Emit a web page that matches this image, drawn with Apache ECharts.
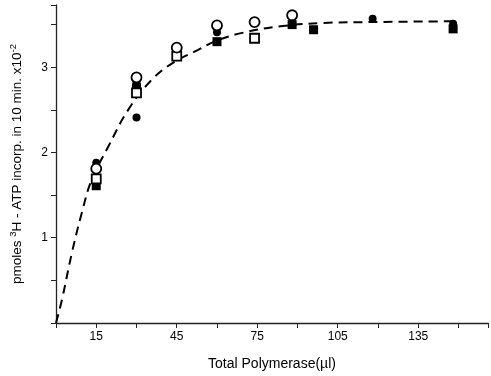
<!DOCTYPE html>
<html>
<head>
<meta charset="utf-8">
<title>Polymerase</title>
<script src="https://cdn.jsdelivr.net/npm/echarts@6/dist/echarts.min.js"></script>
<style>
  html, body { margin: 0; padding: 0; background: #fff; }
  #chart { width: 491px; height: 376px; }
</style>
</head>
<body>
<div id="chart"></div>
<script>
// data: [µl, pmoles x10^-2]
var filledCircle = [[15, 1.88], [30, 2.82], [30, 2.41], [60, 3.41], [118, 3.57], [148, 3.51]];
var openCircle = [[15, 1.81], [30, 2.88], [45, 3.23], [60, 3.49], [74, 3.53], [88, 3.61]];
var filledSquare = [[15, 1.61], [30, 2.76], [60, 3.30], [88, 3.50], [96, 3.44], [148, 3.45]];
var openSquare = [[15, 1.69], [30, 2.70], [45, 3.13], [74, 3.34]];
// dashed fit curve, traced points
var curve = [[0, 0], [2.2, 0.27], [5.9, 0.82], [9.6, 1.29], [13.3, 1.68], [19.5, 2.07],
  [26.9, 2.50], [35.6, 2.85], [44, 3.06], [52.8, 3.20], [59, 3.30], [69, 3.40],
  [83.7, 3.48], [99.7, 3.52], [118, 3.53], [150, 3.54]];

var chart = echarts.init(document.getElementById('chart'));
var font = 'Liberation Sans';
var ink = '#000';

function dots(data, symbol, size, filled) {
  return {
    type: 'scatter',
    data: data,
    symbol: symbol,
    symbolSize: size,
    itemStyle: filled
      ? { color: ink, opacity: 1 }
      : { color: '#fff', borderColor: ink, borderWidth: 1.8, opacity: 1 },
    z: filled ? 3 : 4
  };
}

chart.setOption({
  animation: false,
  backgroundColor: '#fff',
  grid: { left: 54, right: 2, top: 5, bottom: 53 },
  xAxis: {
    type: 'value',
    min: 0, max: 161, interval: 15,
    name: 'Total Polymerase(\u00b5l)',
    nameLocation: 'middle',
    nameGap: 34,
    nameTextStyle: { fontFamily: font, fontSize: 14, color: ink },
    axisLine: { lineStyle: { color: '#222', width: 1.3 } },
    axisTick: { length: 5, lineStyle: { color: '#222' } },
    axisLabel: {
      fontFamily: font, fontSize: 12, color: ink, margin: 8,
      formatter: function (v) { return (v - 15) % 30 === 0 ? String(v) : ''; }
    },
    splitLine: { show: false }
  },
  yAxis: {
    type: 'value',
    min: 0, max: 3.73, interval: 0.5,
    name: 'pmoles {sup|3}H - ATP incorp. in 10 min. x10{sup|-2}',
    nameLocation: 'middle',
    nameGap: 30,
    nameTextStyle: {
      fontFamily: font, fontSize: 13.5, color: ink, lineHeight: 18,
      rich: { sup: { fontFamily: font, fontSize: 9.5, verticalAlign: 'top', lineHeight: 18 } }
    },
    axisLine: { show: true, lineStyle: { color: '#222', width: 1.3 } },
    axisTick: { show: true, length: 5, lineStyle: { color: '#222' } },
    axisLabel: {
      fontFamily: font, fontSize: 12, color: ink, margin: 8,
      formatter: function (v) { return (v > 0 && v % 1 === 0) ? String(v) : ''; }
    },
    splitLine: { show: false }
  },
  series: [
    {
      type: 'line',
      data: curve,
      smooth: 0.4,
      showSymbol: false,
      lineStyle: { color: ink, width: 2, type: [9, 6] },
      z: 2
    },
    dots(filledSquare, 'rect', 9, true),
    dots(filledCircle, 'circle', 8, true),
    dots(openSquare, 'rect', 9, false),
    dots(openCircle, 'circle', 10, false)
  ]
});
</script>
</body>
</html>
